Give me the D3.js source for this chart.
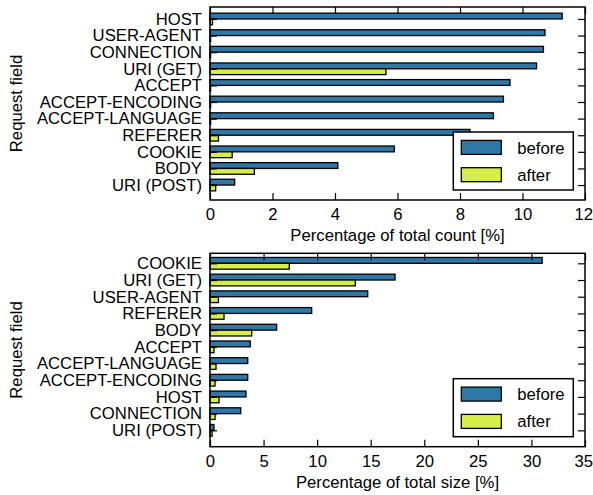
<!DOCTYPE html>
<html>
<head>
<meta charset="utf-8">
<script src="https://cdn.jsdelivr.net/npm/d3@7"></script>
<style>
  body { margin: 0; background: #fff; }
  text { font-family: "Liberation Sans", Arial, sans-serif; }
</style>
</head>
<body>
<div id="chart"></div>
<script>
// data
var countFields = ["HOST", "USER-AGENT", "CONNECTION", "URI (GET)", "ACCEPT",
  "ACCEPT-ENCODING", "ACCEPT-LANGUAGE", "REFERER", "COOKIE", "BODY", "URI (POST)"];
var countBefore = [11.27, 10.72, 10.67, 10.45, 9.6, 9.39, 9.07, 8.32, 5.9, 4.09, 0.79];
var countAfter = [0.08, 0.02, 0.02, 5.63, 0.02, 0.02, 0.02, 0.27, 0.71, 1.42, 0.18];
var countTicks = [0, 2, 4, 6, 8, 10, 12];

var sizeFields = ["COOKIE", "URI (GET)", "USER-AGENT", "REFERER", "BODY", "ACCEPT",
  "ACCEPT-LANGUAGE", "ACCEPT-ENCODING", "HOST", "CONNECTION", "URI (POST)"];
var sizeBefore = [31.0, 17.27, 14.72, 9.49, 6.22, 3.76, 3.52, 3.52, 3.36, 2.87, 0.37];
var sizeAfter = [7.4, 13.56, 0.78, 1.31, 3.89, 0.37, 0.56, 0.47, 0.84, 0.47, 0.2];
var sizeTicks = [0, 5, 10, 15, 20, 25, 30, 35];

var seriesNames = ["before", "after"];
var colors = ["#2f77a6", "#d6ee48"];

// svg setup
var svgWidth = 593;
var svgHeight = 495;

var svg = d3.select("#chart")
  .append("svg")
  .attr("width", svgWidth)
  .attr("height", svgHeight);

var left = 210;
var right = 585;
var fontSize = "16.7px";

function drawPanel(top, bottom, yDomain, fields, before, after, ticks, xLabel) {
  var g = svg.append("g");

  var xScale = d3.scaleLinear()
    .domain([ticks[0], ticks[ticks.length - 1]])
    .range([left, right]);

  var yScale = d3.scaleLinear()
    .domain(yDomain)
    .range([top, bottom]);

  var barH = yScale(0.35) - yScale(0);

  // before bars sit above the tick, after bars below
  g.selectAll("rect.before")
    .data(before)
    .enter()
    .append("rect")
    .attr("x", xScale(0))
    .attr("y", (d, i) => yScale(i) - barH)
    .attr("width", d => xScale(d) - xScale(0))
    .attr("height", barH)
    .attr("fill", colors[0])
    .attr("stroke", "#000")
    .attr("stroke-width", 1.3);

  g.selectAll("rect.after")
    .data(after)
    .enter()
    .append("rect")
    .attr("x", xScale(0))
    .attr("y", (d, i) => yScale(i))
    .attr("width", d => xScale(d) - xScale(0))
    .attr("height", barH)
    .attr("fill", colors[1])
    .attr("stroke", "#000")
    .attr("stroke-width", 1.3);

  // axes, ticks pointing inward
  var bottomAxis = d3.axisBottom(xScale)
    .tickValues(ticks)
    .tickSizeInner(-7)
    .tickSizeOuter(0)
    .tickPadding(8);
  var topAxis = d3.axisTop(xScale)
    .tickValues(ticks)
    .tickSizeInner(-7)
    .tickSizeOuter(0)
    .tickFormat("");
  var idx = d3.range(fields.length);
  var leftAxis = d3.axisLeft(yScale)
    .tickValues(idx)
    .tickSizeInner(-7)
    .tickSizeOuter(0)
    .tickPadding(8)
    .tickFormat(i => fields[i]);
  var rightAxis = d3.axisRight(yScale)
    .tickValues(idx)
    .tickSizeInner(-7)
    .tickSizeOuter(0)
    .tickFormat("");

  var xAxisG = g.append("g").attr("transform", `translate(0, ${bottom})`).call(bottomAxis);
  var axes = [
    xAxisG,
    g.append("g").attr("transform", `translate(0, ${top})`).call(topAxis),
    g.append("g").attr("transform", `translate(${left}, 0)`).call(leftAxis),
    g.append("g").attr("transform", `translate(${right}, 0)`).call(rightAxis)
  ];
  axes.forEach(function(a) {
    a.select(".domain").remove();
    a.selectAll("line").attr("stroke", "#000").attr("stroke-width", 1.2);
    a.selectAll("text")
      .attr("fill", "#000")
      .style("font-size", fontSize)
      .style("font-family", "'Liberation Sans', Arial, sans-serif");
  });
  // keep the last tick label inside the page
  xAxisG.selectAll(".tick text")
    .filter(d => d === ticks[ticks.length - 1])
    .attr("dx", -1.8);

  // frame
  g.append("rect")
    .attr("x", left)
    .attr("y", top)
    .attr("width", right - left)
    .attr("height", bottom - top)
    .attr("fill", "none")
    .attr("stroke", "#000")
    .attr("stroke-width", 1.5);

  // x label
  g.append("text")
    .attr("x", (left + right) / 2)
    .attr("y", bottom + 41)
    .attr("text-anchor", "middle")
    .style("font-size", fontSize)
    .text(xLabel);

  // y label
  g.append("text")
    .attr("transform", `translate(22, ${(top + bottom) / 2}) rotate(-90)`)
    .attr("text-anchor", "middle")
    .style("font-size", fontSize)
    .text("Request field");

  // legend
  var lx = 453.3;
  var ly = bottom - 10 - 58;
  var legend = g.append("g").attr("transform", `translate(${lx}, ${ly})`);
  legend.append("rect")
    .attr("width", 120)
    .attr("height", 58)
    .attr("fill", "#fff")
    .attr("stroke", "#000")
    .attr("stroke-width", 1.5);
  seriesNames.forEach(function(name, i) {
    legend.append("rect")
      .attr("x", 8)
      .attr("y", 8.4 + i * 27.3)
      .attr("width", 40)
      .attr("height", 14)
      .attr("fill", colors[i])
      .attr("stroke", "#000")
      .attr("stroke-width", 1.3);
    legend.append("text")
      .attr("x", 64)
      .attr("y", 21.5 + i * 27.3)
      .style("font-size", fontSize)
      .text(name);
  });
}

drawPanel(7, 200, [-0.72, 10.9], countFields, countBefore, countAfter, countTicks,
  "Percentage of total count [%]");
drawPanel(253.3, 446.7, [-0.6, 10.98], sizeFields, sizeBefore, sizeAfter, sizeTicks,
  "Percentage of total size [%]");
</script>
</body>
</html>
